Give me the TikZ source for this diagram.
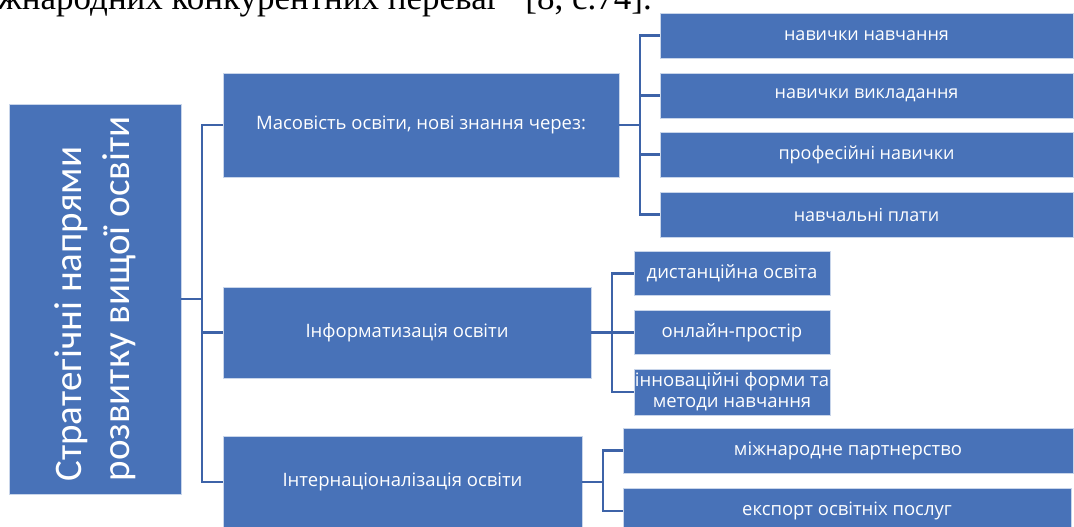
\documentclass[tikz,border=0pt]{standalone}
\usepackage{fontspec}
\setmainfont{Open Sans}
\newfontfamily\titlefont{Carlito}
\newfontfamily\pagefont{Liberation Serif}
\usepackage{xcolor}
\usepackage{tikz}
\usetikzlibrary{
    positioning
}
\definecolor{boxblue}{HTML}{4872B8}
\definecolor{lineblue}{HTML}{3D63A8}
\tikzset{
    blk/.style={rectangle, fill=boxblue, draw=white!70!boxblue, line width=0.6pt,
        text=white, inner sep=0pt, align=center, font=\fontsize{18.5}{21}\selectfont},
    link/.style={draw=lineblue, line width=2.2pt}
}

\begin{document}
\begin{tikzpicture}[x=1pt, y=-1pt]
		\useasboundingbox (0, 0) rectangle (1074, 527);
		\clip (0, 0) rectangle (1074, 527);
		% tail of the text line above the figure
		\node[anchor=base east, inner sep=0pt, font=\pagefont\fontsize{35}{40}\selectfont] (tail) at (652, 10) {міжнародних конкурентних переваг” [8, с.74].};
		% root
		\node[blk, minimum width=172, minimum height=390] (root) at (95, 299) {};
		\node[rotate=90, align=left, text=white, inner sep=0pt, font=\titlefont\fontsize{39}{48}\selectfont] (rootlbl) at (root.center) {Стратегічні напрями\\розвитку вищої освіти};
		% first level
		\node[blk, minimum width=396, minimum height=104] (mass) at (421, 125) {Масовість освіти, нові знання через:};
		\node[blk, minimum width=368, minimum height=91] (info) at (407, 332.5) {Інформатизація освіти};
		\node[blk, minimum width=359, minimum height=92] (intl) at (402.5, 482) {Інтернаціоналізація освіти};
		% second level
		\node[blk, font=\fontsize{18}{21}\selectfont, minimum width=413, minimum height=45] (mass1) at (866.5, 35.5) {навички навчання};
		\node[blk, font=\fontsize{18}{21}\selectfont, minimum width=413, minimum height=45] (mass2) at (866.5, 95.5) {навички викладання};
		\node[blk, font=\fontsize{18}{21}\selectfont, minimum width=413, minimum height=45] (mass3) at (866.5, 154.5) {професійні навички};
		\node[blk, font=\fontsize{18}{21}\selectfont, minimum width=413, minimum height=45] (mass4) at (866.5, 214.5) {навчальні плати};
		\node[blk, minimum width=196, minimum height=44] (info1) at (732, 273.5) {дистанційна освіта};
		\node[blk, minimum width=196, minimum height=44] (info2) at (732, 332.5) {онлайн-простір};
		\node[blk, minimum width=196, minimum height=46] (info3) at (732, 392) {інноваційні форми та\\методи навчання};
		\node[blk, minimum width=450, minimum height=45] (intl1) at (848, 450.5) {міжнародне партнерство};
		\node[blk, minimum width=448, minimum height=46] (intl2) at (847, 511) {експорт освітніх послуг};
		% connectors
		\draw [link] (root.east) -- ++(21, 0) |- (mass.west);
		\draw [link] (root.east) -- ++(21, 0) |- (info.west);
		\draw [link] (root.east) -- ++(21, 0) |- (intl.west);
		\draw [link] (mass.east) -- ++(21, 0) |- (mass1.west);
		\draw [link] (mass.east) -- ++(21, 0) |- (mass2.west);
		\draw [link] (mass.east) -- ++(21, 0) |- (mass3.west);
		\draw [link] (mass.east) -- ++(21, 0) |- (mass4.west);
		\draw [link] (info.east) -- ++(21, 0) |- (info1.west);
		\draw [link] (info.east) -- ++(21, 0) |- (info2.west);
		\draw [link] (info.east) -- ++(21, 0) |- (info3.west);
		\draw [link] (intl.east) -- ++(21, 0) |- (intl1.west);
		\draw [link] (intl.east) -- ++(21, 0) |- (intl2.west);
	\end{tikzpicture}
\end{document}
